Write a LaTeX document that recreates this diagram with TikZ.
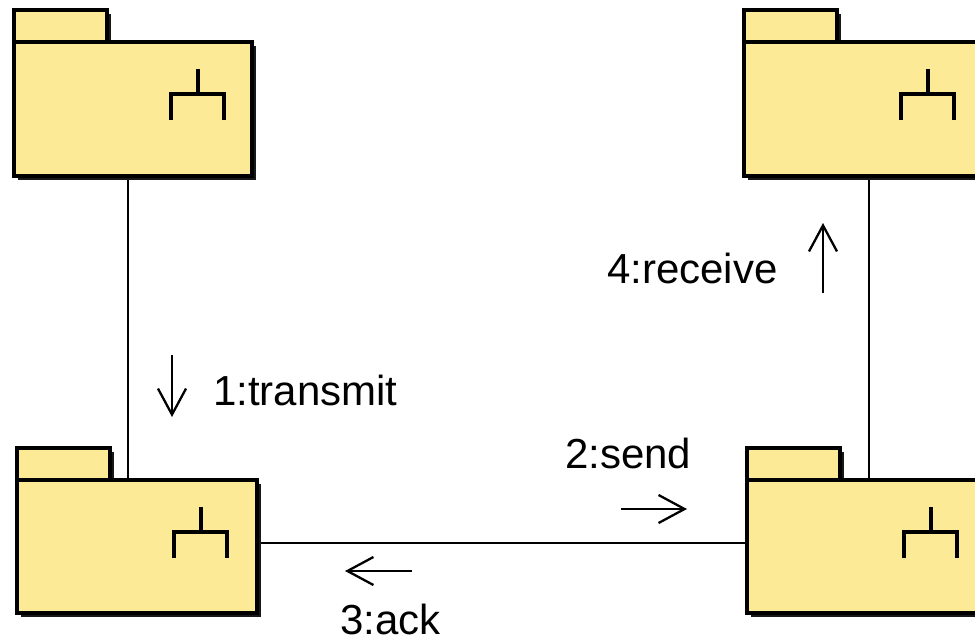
\documentclass[tikz,border=0pt]{standalone}
\usepackage{fontspec}
\setmainfont{Liberation Sans}
\usetikzlibrary{arrows.meta,calc}
\definecolor{pkgfill}{RGB}{253,234,151}
\definecolor{pkgshadow}{RGB}{24,24,24}
\pgfdeclarelayer{background}
\pgfsetlayers{background,main}
\tikzset{
  pkgline/.style={draw=black, line width=3.2pt, line join=miter},
  pkgbody/.style={pkgline, fill=pkgfill, rectangle, inner sep=0pt, outer sep=0pt, anchor=north west},
  iconline/.style={draw=black, line width=3.2pt, line join=miter},
  link/.style={draw=black, line width=1.6pt},
  msg/.style={draw=black, line width=2.3pt, -{Straight Barb[length=26pt,width=28pt]}},
  msglabel/.style={inner sep=0pt, anchor=base west, font=\fontsize{42}{50}\selectfont}
}
% UML package with component icon: #1 name, #2 left, #3 body top, #4 body width, #5 body height
\newcommand\umlpackage[5]{%
  \fill[pkgshadow] (#2+4,#3-32+4) rectangle ++(93,32);
  \fill[pkgshadow] (#2+4,#3+4) rectangle ++(#4,#5);
  \draw[pkgline, fill=pkgfill] (#2,#3-32) rectangle ++(93,32);
  \node[pkgbody, minimum width=#4pt, minimum height=#5pt] (#1) at (#2,#3) {};
  \draw[iconline] ($(#1.north west)+(184,27)$) -- ++(0,25);
  \draw[iconline] ($(#1.north west)+(157,78)$) |- ($(#1.north west)+(210,52)$) -- ++(0,26);
}
\begin{document}
\begin{tikzpicture}[x=1pt,y=-1pt]
  \path[use as bounding box] (0,0) rectangle (975,641);
  \clip (0,0) rectangle (975,641);

  \umlpackage{tl}{14}{42}{238}{134}
  \umlpackage{tr}{744}{42}{238}{134}
  \umlpackage{bl}{17}{480}{240}{133}
  \umlpackage{br}{747}{480}{240}{133}

  \coordinate (lx) at (128,0);
  \coordinate (rx) at (869,0);
  \coordinate (hy) at (0,543);
  \begin{pgfonlayer}{background}
    \draw[link] (tl.south -| lx) -- (bl.north -| lx);
    \draw[link] (tr.south -| rx) -- (br.north -| rx);
    \draw[link] (bl.east |- hy) -- (br.west |- hy);
  \end{pgfonlayer}

  % message labels
  \node[msglabel] (m1) at (213,405) {1:transmit};
  \node[msglabel] (m2) at (565,468) {2:send};
  \node[msglabel] (m3) at (340,634) {3:ack};
  \node[msglabel] (m4) at (607,283) {4:receive};

  % message direction arrows
  \draw[msg] (172,355) -- (172,417);
  \draw[msg] (621,509) -- (687,509);
  \draw[msg] (412,571) -- (345,571);
  \draw[msg] (823,293) -- (823,223);
\end{tikzpicture}
\end{document}
